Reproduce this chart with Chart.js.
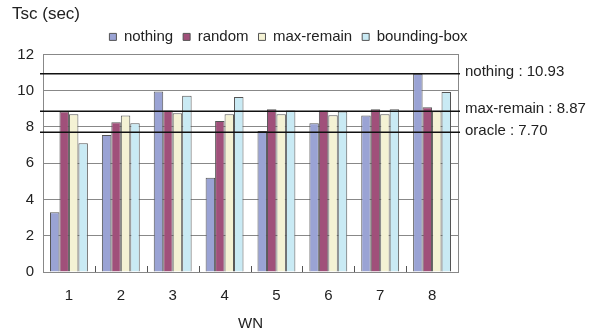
<!DOCTYPE html>
<html>
<head>
<meta charset="utf-8">
<script src="https://cdn.jsdelivr.net/npm/chart.js@4/dist/chart.umd.min.js"></script>
<style>
  html, body { margin: 0; padding: 0; background: #fff; }
  #wrap { width: 590px; height: 333px; }
</style>
</head>
<body>
<div id="wrap"><canvas id="chart"></canvas></div>
<script>
// chart data
const categories = ["1", "2", "3", "4", "5", "6", "7", "8"];
const seriesNames = ["nothing", "random", "max-remain", "bounding-box"];
const nothingValues = [3.3, 7.55, 9.96, 5.2, 7.78, 8.2, 8.63, 10.93];
const randomValues = [8.85, 8.26, 8.9, 8.33, 8.98, 8.9, 8.98, 9.09];
const maxRemainValues = [8.7, 8.63, 8.76, 8.7, 8.7, 8.65, 8.7, 8.87];
const boundingBoxValues = [7.1, 8.2, 9.72, 9.65, 8.9, 8.85, 8.98, 9.93];
const yTicks = [0, 2, 4, 6, 8, 10, 12];
// horizontal reference lines
const refNames = ["nothing", "max-remain", "oracle"];
const refValues = [10.93, 8.87, 7.70];

const colors = ["#9aa3d4", "#a0507a", "#f4f2d4", "#c9eaf4"];
const FONT = "'Liberation Sans', Arial, sans-serif";

// draws plot frame, small inside ticks and the reference lines
const overlay = {
  id: "overlay",
  beforeDatasetsDraw(chart) {
    const { ctx, chartArea: a, scales } = chart;
    const x = scales.x;
    ctx.save();
    ctx.strokeStyle = "#888";
    ctx.lineWidth = 1;
    ctx.strokeRect(Math.round(a.left) + 0.5, Math.round(a.top) + 0.5,
      Math.round(a.right - a.left), Math.round(a.bottom - a.top));
    const half = (x.getPixelForValue(1) - x.getPixelForValue(0)) / 2;
    ctx.strokeStyle = "#555";
    for (let i = 0; i < categories.length - 1; i++) {
      const px = Math.round(x.getPixelForValue(i) + half) + 0.5;
      ctx.beginPath();
      ctx.moveTo(px, a.bottom - 6);
      ctx.lineTo(px, a.bottom);
      ctx.stroke();
    }
    ctx.restore();
  },
  afterDatasetsDraw(chart) {
    const { ctx, chartArea: a, scales } = chart;
    const y = scales.y;
    ctx.save();
    ctx.strokeStyle = "#111";
    ctx.lineWidth = 1.5;
    ctx.fillStyle = "#222";
    ctx.font = "15px " + FONT;
    ctx.textBaseline = "middle";
    refValues.forEach((v, i) => {
      const py = y.getPixelForValue(v);
      ctx.beginPath();
      ctx.moveTo(a.left - 3, py);
      ctx.lineTo(a.right + 2, py);
      ctx.stroke();
      ctx.fillText(refNames[i] + " : " + v.toFixed(2), a.right + 7, py - 2);
    });
    ctx.restore();
  }
};

const allValues = [nothingValues, randomValues, maxRemainValues, boundingBoxValues];

new Chart(document.getElementById("chart"), {
  type: "bar",
  data: {
    labels: categories,
    datasets: seriesNames.map((name, i) => ({
      label: name,
      data: allValues[i],
      backgroundColor: colors[i],
      borderColor: "#555",
      borderWidth: 1,
      categoryPercentage: 0.73,
      barPercentage: 1.0
    }))
  },
  options: {
    responsive: true,
    maintainAspectRatio: false,
    animation: false,
    layout: { padding: { left: 12, right: 25, top: 2, bottom: 0 } },
    plugins: {
      title: {
        display: true,
        text: "Tsc (sec)",
        align: "start",
        color: "#222",
        font: { family: FONT, size: 17, weight: "normal" },
        padding: { top: 2, bottom: -5 }
      },
      legend: {
        position: "top",
        labels: {
          color: "#222",
          font: { family: FONT, size: 15 },
          boxWidth: 7,
          boxHeight: 7,
          padding: 10
        }
      },
      tooltip: { enabled: false }
    },
    scales: {
      x: {
        grid: { display: false, drawTicks: false },
        border: { color: "#555" },
        ticks: { color: "#222", font: { family: FONT, size: 15 }, padding: 15 },
        title: {
          display: true,
          text: "WN",
          color: "#222",
          font: { family: FONT, size: 15 },
          padding: { top: -5, bottom: 0 }
        }
      },
      y: {
        min: 0,
        max: 12,
        afterBuildTicks(axis) {
          axis.ticks = yTicks.map((v) => ({ value: v }));
        },
        afterFit(axis) {
          axis.width = 31;
        },
        grid: { color: "#888", drawTicks: false },
        border: { color: "#555" },
        ticks: { color: "#222", font: { family: FONT, size: 15 }, padding: 9 }
      },
      yRight: {
        position: "right",
        display: true,
        grid: { display: false },
        border: { display: false },
        ticks: { display: false },
        afterFit(axis) {
          axis.width = 107;
        }
      }
    }
  },
  plugins: [overlay]
});
</script>
</body>
</html>
